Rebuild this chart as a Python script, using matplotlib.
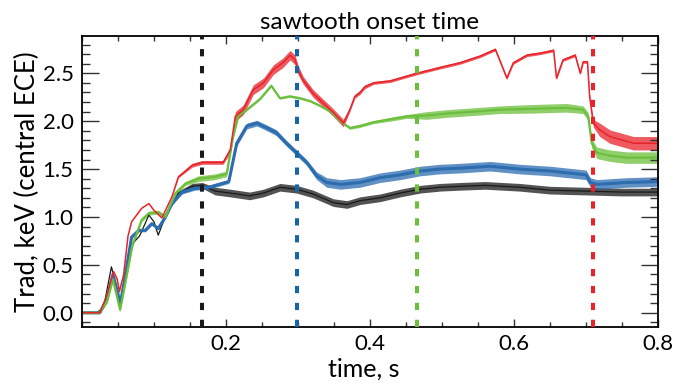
import numpy as np
import matplotlib
matplotlib.use("Agg")
import matplotlib.pyplot as plt
from matplotlib.ticker import MultipleLocator

plt.rcParams["font.family"] = ["Lato", "DejaVu Sans"]

# --- data: time (s), Trad (keV), half-height of sawtooth band ---
black_t = [0.000, 0.020, 0.030, 0.041, 0.047, 0.053, 0.060, 0.070, 0.080, 0.093, 0.100, 0.106,
           0.113, 0.120, 0.134, 0.153, 0.167, 0.185, 0.206, 0.233, 0.252, 0.275, 0.298, 0.321,
           0.349, 0.368, 0.386, 0.414, 0.442, 0.470, 0.497, 0.525, 0.560, 0.608, 0.650, 0.700,
           0.750, 0.800]
black_v = [0.00, 0.00, 0.05, 0.48, 0.30, 0.08, 0.35, 0.72, 0.80, 1.02, 0.95, 0.81,
           0.95, 1.07, 1.25, 1.32, 1.33, 1.27, 1.25, 1.22, 1.25, 1.31, 1.29, 1.24,
           1.15, 1.13, 1.17, 1.20, 1.25, 1.29, 1.31, 1.32, 1.33, 1.31, 1.28, 1.27,
           1.26, 1.26]
black_a = [0, 0, 0, 0, 0, 0, 0, 0, 0, 0, 0, 0,
           0, 0, 0.02, 0.03, 0.03, 0.04, 0.04, 0.04, 0.04, 0.04, 0.04, 0.04,
           0.04, 0.04, 0.04, 0.04, 0.04, 0.04, 0.04, 0.04, 0.04, 0.04, 0.04, 0.04,
           0.04, 0.04]

blue_t = [0.000, 0.025, 0.035, 0.043, 0.050, 0.053, 0.060, 0.069, 0.079, 0.088, 0.097, 0.106,
          0.116, 0.125, 0.139, 0.157, 0.176, 0.204, 0.215, 0.229, 0.243, 0.257, 0.270, 0.284,
          0.298, 0.312, 0.326, 0.340, 0.359, 0.386, 0.414, 0.442, 0.470, 0.497, 0.525, 0.567,
          0.608, 0.650, 0.700, 0.706, 0.715, 0.756, 0.800]
blue_v = [0.00, 0.00, 0.15, 0.40, 0.20, 0.08, 0.38, 0.79, 0.86, 0.86, 0.93, 0.88,
          1.00, 1.14, 1.26, 1.30, 1.31, 1.37, 1.77, 1.95, 1.98, 1.93, 1.88, 1.77,
          1.67, 1.57, 1.43, 1.36, 1.34, 1.36, 1.41, 1.44, 1.48, 1.50, 1.51, 1.53,
          1.50, 1.48, 1.44, 1.36, 1.34, 1.36, 1.37]
blue_a = [0, 0, 0.01, 0.01, 0.01, 0.01, 0.01, 0.015, 0.015, 0.015, 0.015, 0.015,
          0.015, 0.02, 0.02, 0.02, 0.02, 0.02, 0.03, 0.03, 0.03, 0.03, 0.03, 0.03,
          0.03, 0.03, 0.04, 0.05, 0.05, 0.05, 0.05, 0.05, 0.05, 0.05, 0.05, 0.05,
          0.05, 0.05, 0.05, 0.05, 0.05, 0.05, 0.05]

green_t = [0.000, 0.025, 0.035, 0.043, 0.053, 0.060, 0.070, 0.083, 0.093, 0.106, 0.116, 0.130,
           0.144, 0.162, 0.185, 0.201, 0.210, 0.217, 0.229, 0.247, 0.263, 0.275, 0.289, 0.303,
           0.317, 0.331, 0.345, 0.359, 0.372, 0.386, 0.405, 0.428, 0.451, 0.479, 0.506, 0.544,
           0.580, 0.627, 0.673, 0.696, 0.703, 0.708, 0.715, 0.733, 0.756, 0.800]
green_v = [0.00, 0.00, 0.12, 0.35, 0.03, 0.30, 0.70, 0.97, 1.04, 1.05, 1.00, 1.25,
           1.35, 1.40, 1.42, 1.45, 1.84, 2.05, 2.12, 2.23, 2.37, 2.24, 2.26, 2.24,
           2.21, 2.16, 2.10, 2.00, 1.93, 1.95, 1.99, 2.02, 2.05, 2.06, 2.08, 2.10,
           2.12, 2.13, 2.14, 2.12, 2.05, 1.77, 1.67, 1.64, 1.62, 1.62]
green_a = [0, 0, 0.02, 0.02, 0.02, 0.02, 0.02, 0.02, 0.02, 0.02, 0.02, 0.02,
           0.02, 0.03, 0.03, 0.03, 0.02, 0.02, 0.01, 0.01, 0.01, 0.01, 0.01, 0.01,
           0.01, 0.01, 0.01, 0.01, 0.015, 0.015, 0.015, 0.02, 0.02, 0.04, 0.04, 0.04,
           0.04, 0.045, 0.045, 0.04, 0.04, 0.05, 0.06, 0.06, 0.06, 0.06]

red_t = [0.000, 0.025, 0.033, 0.044, 0.049, 0.052, 0.058, 0.064, 0.069, 0.083, 0.093, 0.100,
         0.111, 0.125, 0.134, 0.153, 0.167, 0.196, 0.206, 0.213, 0.224, 0.238, 0.252, 0.266,
         0.279, 0.289, 0.296, 0.300, 0.307, 0.321, 0.335, 0.349, 0.363, 0.372, 0.379, 0.386,
         0.393, 0.405, 0.428, 0.451, 0.465, 0.497, 0.525, 0.553, 0.574, 0.580, 0.590, 0.599,
         0.618, 0.636, 0.655, 0.659, 0.668, 0.685, 0.692, 0.696, 0.702, 0.705, 0.710, 0.719,
         0.733, 0.747, 0.766, 0.800]
red_v = [0.00, 0.00, 0.15, 0.43, 0.35, 0.22, 0.40, 0.80, 0.95, 1.09, 1.14, 1.07,
         0.99, 1.21, 1.42, 1.54, 1.57, 1.57, 1.70, 2.05, 2.12, 2.33, 2.40, 2.54,
         2.61, 2.69, 2.64, 2.54, 2.43, 2.29, 2.19, 2.09, 1.98, 2.12, 2.26, 2.30,
         2.36, 2.40, 2.42, 2.47, 2.50, 2.56, 2.61, 2.68, 2.75, 2.64, 2.45, 2.61,
         2.69, 2.71, 2.74, 2.45, 2.64, 2.69, 2.50, 2.62, 2.62, 2.26, 1.98, 1.91,
         1.84, 1.81, 1.77, 1.77]
red_a = [0, 0, 0, 0, 0, 0, 0, 0, 0, 0, 0, 0,
         0, 0, 0.01, 0.02, 0.02, 0.02, 0.03, 0.05, 0.05, 0.05, 0.05, 0.05,
         0.05, 0.05, 0.05, 0.05, 0.04, 0.04, 0.04, 0.04, 0.04, 0.02, 0.02, 0.02,
         0.02, 0.015, 0.015, 0.015, 0.015, 0.015, 0.015, 0.015, 0.015, 0.015, 0.015, 0.015,
         0.015, 0.015, 0.015, 0.015, 0.015, 0.015, 0.015, 0.015, 0.015, 0.02, 0.04, 0.07,
         0.07, 0.07, 0.07, 0.07]

onset_t = [0.1667, 0.299, 0.465, 0.710]

c_black, c_blue, c_green, c_red = "#1a1a1a", "#2c6db0", "#6cbf3c", "#e8232a"
series = [
    (black_t, black_v, black_a, c_black, 0.9),
    (blue_t, blue_v, blue_a, c_blue, 2.2),
    (green_t, green_v, green_a, c_green, 1.6),
    (red_t, red_v, red_a, c_red, 1.1),
]
onset_colors = [c_black, "#1565a8", c_green, c_red]

# %%
fig = plt.figure(figsize=(6.77, 3.83), dpi=100)
ax = fig.add_axes([0.121, 0.146, 0.851, 0.760])

for t, v, a, c, lw in series:
    t = np.array(t)
    v = np.array(v)
    a = np.array(a)
    ax.fill_between(t, v - a, v + a, color=c, alpha=0.75, lw=0)
    ax.plot(t, v, color=c, lw=lw)

for t0, c in zip(onset_t, onset_colors):
    ax.axvline(t0, color=c, lw=2.9, linestyle=(0, (1.8, 2.4)), zorder=5)

ax.set_xlim(0, 0.8)
ax.set_ylim(-0.15, 2.89)
ax.xaxis.set_major_locator(MultipleLocator(0.2))
ax.xaxis.set_minor_locator(MultipleLocator(0.05))
ax.yaxis.set_major_locator(MultipleLocator(0.5))
ax.yaxis.set_minor_locator(MultipleLocator(0.1))
ax.set_xticks([0.2, 0.4, 0.6, 0.8])
ax.set_xticklabels(["0.2", "0.4", "0.6", "0.8"])
ax.tick_params(axis="both", which="both", direction="in", top=True, right=True,
               labelsize=16, width=1.0, color="#333333")
ax.tick_params(axis="x", which="major", length=5.5, pad=5)
ax.tick_params(axis="x", which="minor", length=3.5)
ax.tick_params(axis="y", which="major", length=12, pad=6)
ax.tick_params(axis="y", which="minor", length=6)
for s in ax.spines.values():
    s.set_linewidth(1.3)

ax.set_title("sawtooth onset time", fontsize=17.5, pad=5)
ax.set_xlabel("time, s", fontsize=18)
ax.xaxis.set_label_coords(0.49, -0.105)
ax.set_ylabel("Trad, keV (central ECE)", fontsize=18.5, labelpad=2)

fig.savefig("out.png", dpi=100)
